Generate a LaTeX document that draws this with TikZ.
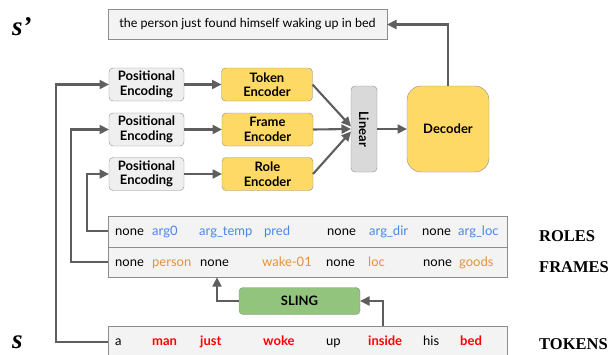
\documentclass[tikz,border=0pt]{standalone}
\usepackage{fontspec}
\setmainfont{Lato}
\newfontfamily\labelfont{Liberation Serif}
\usetikzlibrary{arrows.meta,positioning}

\definecolor{boxgray}{HTML}{F3F3F3}
\definecolor{pegray}{HTML}{EFEFEF}
\definecolor{lingray}{HTML}{D9D9D9}
\definecolor{encyellow}{HTML}{FFD966}
\definecolor{slinggreen}{HTML}{93C47D}
\definecolor{linegray}{HTML}{5E5E5E}
\definecolor{bordergray}{HTML}{8C8C8C}
\definecolor{roleblue}{HTML}{4A86E8}
\definecolor{frameorange}{HTML}{E69138}
\definecolor{tokenred}{HTML}{FF0000}

\tikzset{
  pebox/.style={draw=bordergray, fill=pegray, rounded corners=4pt, align=center,
    font=\bfseries\fontsize{13}{14.5}\selectfont, minimum width=75pt, minimum height=33pt,
    inner sep=0pt, outer sep=0pt},
  encbox/.style={pebox, fill=encyellow, minimum width=91pt},
  rowbox/.style={draw=bordergray, fill=boxgray, minimum width=399pt, minimum height=31pt,
    inner sep=0pt, outer sep=0pt},
  word/.style={anchor=base west, font=\fontsize{13}{14}\selectfont, inner sep=0pt},
  redword/.style={word, text=tokenred, font=\bfseries\fontsize{13}{14}\selectfont},
  sidelabel/.style={anchor=base west, font=\labelfont\bfseries\fontsize{16.5}{18}\selectfont, inner sep=0pt},
  flow/.style={draw=linegray, line width=2.1pt, -{Triangle[length=9.5pt,width=9pt]}},
}

\begin{document}
\begin{tikzpicture}[x=1pt, y=-1pt]

\useasboundingbox (0,0) rectangle (613,354);
\clip (0,0) rectangle (613,354);

% Sentences
\node[sidelabel, font=\labelfont\bfseries\itshape\fontsize{27}{28}\selectfont] (sp) at (12,35) {s’};
\node[sidelabel, font=\labelfont\bfseries\itshape\fontsize{27}{28}\selectfont] (s) at (12,348) {s};
\node[draw=bordergray, fill=boxgray, minimum width=279pt, minimum height=30pt, inner sep=0pt,
  outer sep=0pt, font=\fontsize{12.5}{14}\selectfont] (out) at (247.5,24.5)
  {the person just found himself waking up in bed};

% Positional encodings
\node[pebox] (peTok) at (146.5,84.5) {Positional\\Encoding};
\node[pebox] (peFrm) at (146.5,129.5) {Positional\\Encoding};
\node[pebox] (peRol) at (146.5,174) {Positional\\Encoding};

% Encoders
\node[encbox] (encTok) at (267,84.5) {Token\\Encoder};
\node[encbox] (encFrm) at (267.5,129.5) {Frame\\Encoder};
\node[encbox] (encRol) at (267.5,174) {Role\\Encoder};

% Linear and decoder
\node[pebox, fill=lingray, minimum width=26pt, minimum height=86pt] (lin) at (364,129) {};
\node[rotate=-90, font=\bfseries\fontsize{13}{14}\selectfont] (linText) at (lin.center) {Linear};
\node[pebox, fill=encyellow, rounded corners=14pt, minimum width=82pt, minimum height=86pt] (dec) at (448,129) {Decoder};

% Table
\node[rowbox] (roles) at (307.5,231.2) {};
\node[rowbox, minimum height=30.5pt] (frames) at (307.5,262) {};
\node[rowbox] (tokens) at (307.5,341.2) {};

\foreach \x/\w/\c [count=\i] in {115/none/black, 152/arg0/roleblue, 199/arg\_temp/roleblue,
    264/pred/roleblue, 327/none/black, 369/arg\_dir/roleblue, 422/none/black, 458/arg\_loc/roleblue}
  \node[word, text=\c] (r\i) at (\x,235.5) {\w};

\foreach \x/\w/\c [count=\i] in {115/none/black, 152/person/frameorange, 200/none/black,
    262/wake-01/frameorange, 326/none/black, 368/loc/frameorange, 423/none/black, 459/goods/frameorange}
  \node[word, text=\c] (f\i) at (\x,266.5) {\w};

\foreach \x/\w/\s [count=\i] in {115/a/word, 152/man/redword, 200/just/redword,
    263/woke/redword, 326/up/word, 368/inside/redword, 423/his/word, 460/bed/redword}
  \node[\s] (t\i) at (\x,345) {\w};

\node[sidelabel] (lblRoles) at (539,241) {ROLES};
\node[sidelabel] (lblFrames) at (539,272) {FRAMES};
\node[sidelabel] (lblTokens) at (539,349) {TOKENS};

% SLING
\node[pebox, fill=slinggreen, minimum width=121pt, minimum height=27pt] (sling) at (299.5,301) {SLING};

% Arrows
\draw[flow] (tokens.west |- t1.center) -| (56,84.5) -- (peTok.west);
\draw[flow] (frames.west) -| (71,129.5) -- (peFrm.west);
\draw[flow] (roles.west) -| (87,174) -- (peRol.west);

\draw[flow] (peTok) -- (encTok);
\draw[flow] (peFrm) -- (encFrm);
\draw[flow] (peRol) -- (encRol);

\draw[flow] (encTok.east) -- (lin.west |- 0,126.5);
\draw[flow] (encFrm.east) -- (lin.west |- 0,129);
\draw[flow] (encRol.east) -- (lin.west |- 0,131.5);
\draw[flow] (lin) -- (dec);
\draw[flow] (dec.north) |- (out.east);

\draw[flow] (383,325.7) |- (sling.east);
\draw[flow] (sling.west) -| (217,277.2);

\end{tikzpicture}
\end{document}
